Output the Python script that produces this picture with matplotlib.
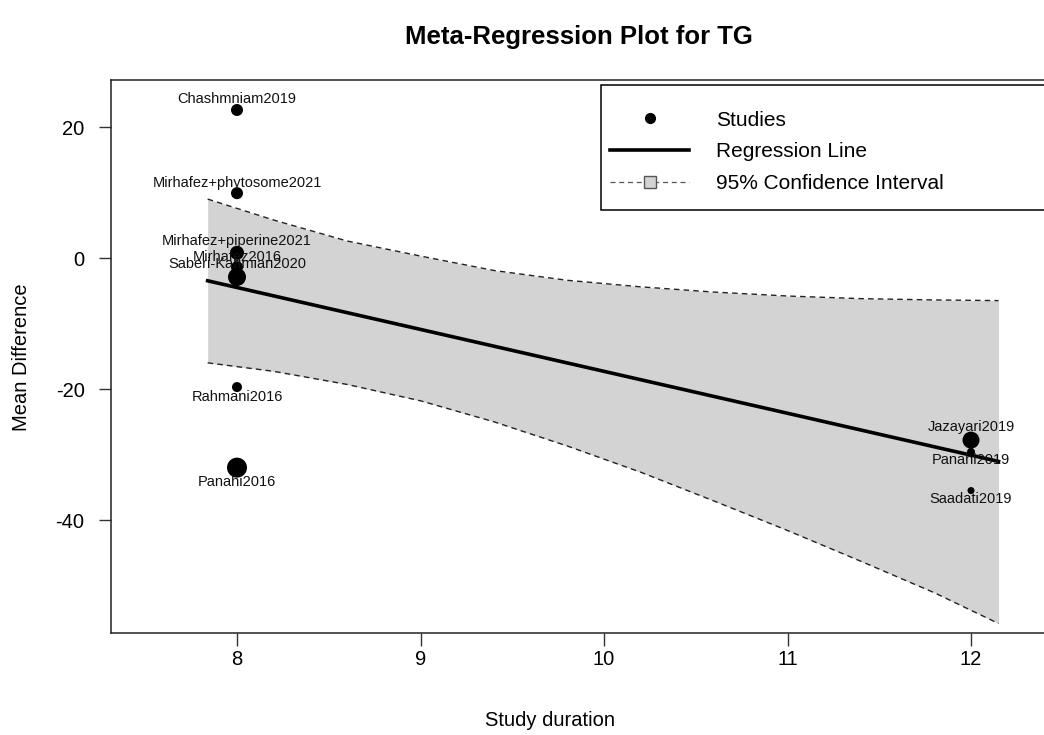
import matplotlib
matplotlib.use("Agg")
import matplotlib.pyplot as plt
from matplotlib.lines import Line2D
from matplotlib.patches import Rectangle
import numpy as np

plt.rcParams['font.family'] = ['Liberation Sans', 'DejaVu Sans']
plt.rcParams['axes.unicode_minus'] = False

# studies (study duration in weeks, mean difference in TG)
studies = ["Chashmniam2019", "Mirhafez+phytosome2021", "Mirhafez+piperine2021",
           "Mirhafez2016", "Saberi-Karimian2020", "Rahmani2016", "Panahi2016",
           "Jazayari2019", "Panahi2019", "Saadati2019"]
duration = [8, 8, 8, 8, 8, 8, 8, 12, 12, 12]
mean_diff = [22.6, 9.9, 0.8, -1.4, -2.9, -19.7, -32.0, -27.8, -29.6, -35.5]
weights = [6, 6, 7, 6, 9, 5, 10, 8.5, 4, 3.5]
label_pos = ["above", "above", "above", "above", "above", "below", "below",
             "above", "below", "below"]

# regression fit and 95% CI band
fit_intercept = 46.7
fit_slope = -6.4
ci_x = [7.84, 8.2, 8.6, 9.0, 9.4, 9.8, 10.2, 10.6, 11.0, 11.4, 11.8, 12.15]
ci_upper = [9.0, 5.8, 2.6, 0.3, -1.9, -3.4, -4.4, -5.2, -5.8, -6.2, -6.4, -6.5]
ci_lower = [-16.0, -17.3, -19.3, -21.8, -25.0, -28.7, -32.7, -37.1, -41.6,
            -46.3, -51.1, -55.8]

fig = plt.figure(figsize=(10.44, 7.35), dpi=100)
W, H = 1044, 735
ax_l, ax_r, ax_t, ax_b = 111, 1046, 80, 633
ax = fig.add_axes([ax_l / W, (H - ax_b) / H, (ax_r - ax_l) / W, (ax_b - ax_t) / H])

ax.fill_between(ci_x, ci_lower, ci_upper, color='#d3d3d3', lw=0, zorder=1)
ax.plot(ci_x, ci_upper, color='#222222', lw=1.0, ls=(0, (4, 3)), zorder=2)
ax.plot(ci_x, ci_lower, color='#222222', lw=1.0, ls=(0, (4, 3)), zorder=2)

fx = np.array([ci_x[0], ci_x[-1]])
ax.plot(fx, fit_intercept + fit_slope * fx, color='black', lw=2.6, zorder=3)

diam_px = np.array(weights) * 2
sizes = (diam_px * 0.72) ** 2
ax.scatter(duration, mean_diff, s=sizes, color='black', zorder=4, lw=0)

for name, x, y, w, pos in zip(studies, duration, mean_diff, weights, label_pos):
    off = (w + 4.5) * 0.72
    dy = off if pos == "above" else -off
    ax.annotate(name, (x, y), xytext=(0, dy), textcoords='offset points',
                ha='center', va='center', fontsize=10.5, color='#111111', zorder=5)

ax.set_xlim(8 - 126 / 183.5, 8 + 809 / 183.5)
ax.set_ylim(-57.25, 27.18)
ax.set_xticks([8, 9, 10, 11, 12])
ax.set_yticks([20, 0, -20, -40])
ax.tick_params(axis='both', length=9, width=1, labelsize=14.5, color='#333333')
ax.tick_params(axis='x', pad=3)
ax.tick_params(axis='y', pad=10)
for s in ax.spines.values():
    s.set_linewidth(1.1)
    s.set_color('#222222')

ax.set_title("Meta-Regression Plot for TG", fontsize=18.5, fontweight='bold', pad=26)
fig.text(550 / W, 1 - 721 / H, "Study duration", ha='center', va='center', fontsize=14.5)
fig.text(22 / W, 1 - 357 / H, "Mean Difference", ha='center', va='center',
         rotation=90, fontsize=14.5)

# legend box
def ax_frac(px, py):
    return (px - ax_l) / (ax_r - ax_l), (ax_b - py) / (ax_b - ax_t)

bx0, by0 = ax_frac(601, 210)
bx1, by1 = ax_frac(1060, 85)
ax.add_patch(Rectangle((bx0, by0), bx1 - bx0, by1 - by0, transform=ax.transAxes,
                       facecolor='white', edgecolor='black', lw=1.1, zorder=6,
                       clip_on=False))

handles = [
    Line2D([], [], marker='o', ls='none', color='black', markersize=7),
    Line2D([], [], color='black', lw=2.6),
    Line2D([], [], color='#555555', lw=0.9, ls=(0, (4, 3)), marker='s',
           markersize=9, markerfacecolor='#d3d3d3', markeredgecolor='#555555'),
]
leg = ax.legend(handles, ["Studies", "Regression Line", "95% Confidence Interval"],
                loc='upper left', bbox_to_anchor=ax_frac(601, 101.6),
                fontsize=15, frameon=False, borderpad=0.43,
                labelspacing=0.615, handlelength=3.8, handletextpad=1.3,
                borderaxespad=0)
leg.set_zorder(7)

fig.savefig("out.png", dpi=100)
